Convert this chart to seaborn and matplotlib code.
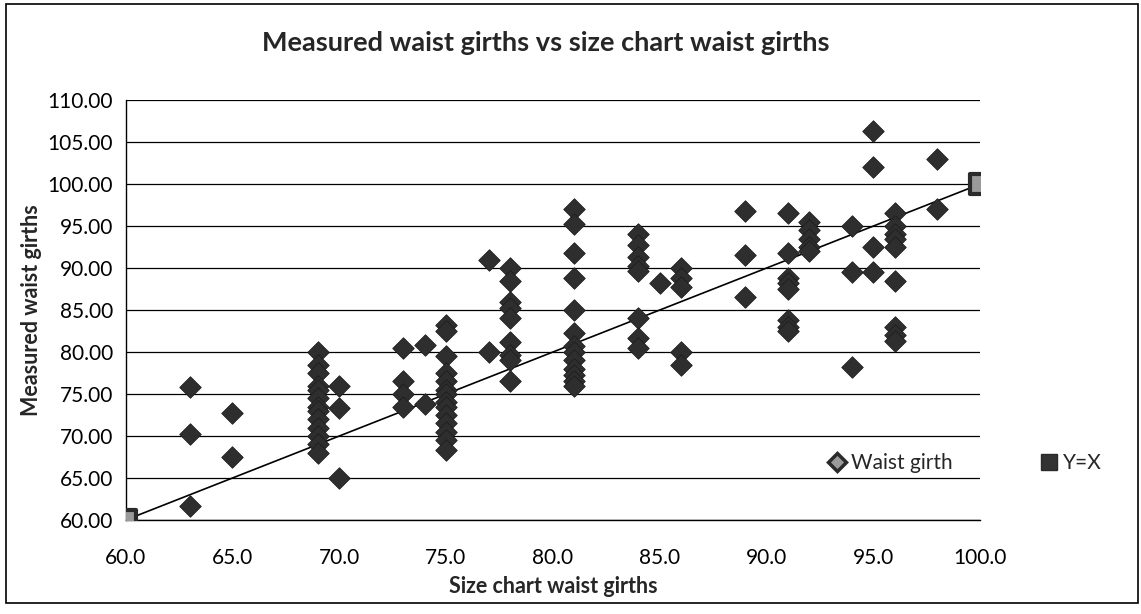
import matplotlib
matplotlib.use("Agg")
import matplotlib.pyplot as plt
from matplotlib.lines import Line2D
from matplotlib.patches import Rectangle
import seaborn as sns
import pandas as pd

# size chart waist girth -> measured waist girths
sizes = [63, 65, 69, 70, 73, 74, 75, 77, 78, 81, 84, 85, 86, 89, 91, 92, 94, 95, 96, 98]
measured = [
    [75.8, 70.3, 61.7],
    [72.8, 67.5],
    [80.0, 78.5, 77.5, 76.0, 75.5, 74.5, 73.5, 73.0, 72.0, 71.0, 70.0, 69.0, 68.0],
    [76.0, 73.3, 65.0],
    [80.5, 76.5, 75.0, 73.5],
    [80.8, 73.8],
    [83.2, 82.5, 79.5, 77.5, 76.5, 75.5, 75.0, 74.0, 73.5, 72.5, 71.5, 70.5, 69.5, 68.3],
    [91.0, 80.0],
    [90.0, 88.5, 86.0, 85.3, 84.0, 81.2, 79.7, 79.0, 76.6],
    [97.0, 95.3, 91.8, 88.8, 85.0, 82.3, 80.7, 80.0, 79.0, 78.0, 77.3, 76.5, 76.0],
    [94.0, 92.8, 91.3, 90.3, 89.7, 84.0, 81.7, 80.5],
    [88.2],
    [90.0, 88.8, 87.8, 80.0, 78.5],
    [96.8, 91.5, 86.5],
    [96.5, 91.8, 88.8, 88.2, 87.5, 83.8, 83.0, 82.5],
    [95.5, 94.5, 93.5, 92.5, 92.0],
    [95.0, 89.5, 78.2],
    [106.3, 102.0, 92.5, 89.5],
    [96.5, 95.0, 94.0, 93.5, 92.5, 88.5, 83.0, 82.0, 81.3],
    [103.0, 97.0],
]
line_x = [60, 100]
line_y = [60, 100]

rows = []
for s, ms in zip(sizes, measured):
    for m in ms:
        rows.append({"size": s, "waist": m})
df = pd.DataFrame(rows)

sns.set_style("white")
plt.rcParams["font.family"] = ["Lato", "DejaVu Sans"]

fig = plt.figure(figsize=(11.41, 6.14), dpi=100)
ax = fig.add_axes([0.110, 0.153, 0.749, 0.684])

ax.plot(line_x, line_y, color="black", lw=1.2, zorder=2)
sns.scatterplot(data=df, x="size", y="waist", marker="D", s=120, color="#2e2e2e",
                edgecolor="#1e1e1e", linewidth=0.6, ax=ax, zorder=3, legend=False)
ax.scatter(line_x, line_y, marker="s", s=220, color="#9a9a9a", edgecolor="#2a2a2a",
           linewidth=3, zorder=4)

ax.set_xlim(60, 100)
ax.set_ylim(60, 110)
ax.set_xticks(range(60, 101, 5))
ax.set_xticklabels([f"{v:.1f}" for v in range(60, 101, 5)])
ax.set_yticks(range(60, 111, 5))
ax.set_yticklabels([f"{v:.2f}" for v in range(60, 111, 5)])
ax.yaxis.grid(True, color="black", lw=0.9)
ax.set_axisbelow(True)
for side in ["top", "right"]:
    ax.spines[side].set_visible(False)
for side in ["left", "bottom"]:
    ax.spines[side].set_color("black")
    ax.spines[side].set_linewidth(1.0)
ax.tick_params(axis="y", direction="inout", length=10, width=1, labelsize=15, colors="black", pad=4)
ax.tick_params(axis="x", direction="out", length=6, width=1, labelsize=15, colors="black", pad=14)
ax.set_xlabel("Size chart waist girths", fontsize=15.5, fontweight="bold", labelpad=6)
ax.set_ylabel("Measured waist girths", fontsize=15.5, fontweight="bold", labelpad=4)
fig.text(0.478, 0.93, "Measured waist girths vs size chart waist girths", ha="center", va="center",
         fontsize=19.5, fontweight="bold")

handles = [
    Line2D([], [], ls="none", marker="D", markersize=9, markerfacecolor="#9a9a9a",
           markeredgecolor="#2a2a2a", markeredgewidth=2.5),
    Line2D([], [], ls="none", marker="s", markersize=11, markerfacecolor="#333333",
           markeredgecolor="#2a2a2a"),
]
leg = fig.legend(handles, ["Waist girth", "Y=X"], loc="center", bbox_to_anchor=(0.846, 0.246),
                 ncol=2, frameon=True, fontsize=15, handlelength=0.8, handletextpad=0.3,
                 columnspacing=4.2, borderpad=0.2)
leg.get_frame().set_edgecolor("none")
leg.get_frame().set_facecolor("white")

fig.patches.append(Rectangle((0.005, 0.018), 0.992, 0.975, transform=fig.transFigure,
                             fill=False, edgecolor="black", lw=1.2))

plt.savefig("out.png", dpi=100)
